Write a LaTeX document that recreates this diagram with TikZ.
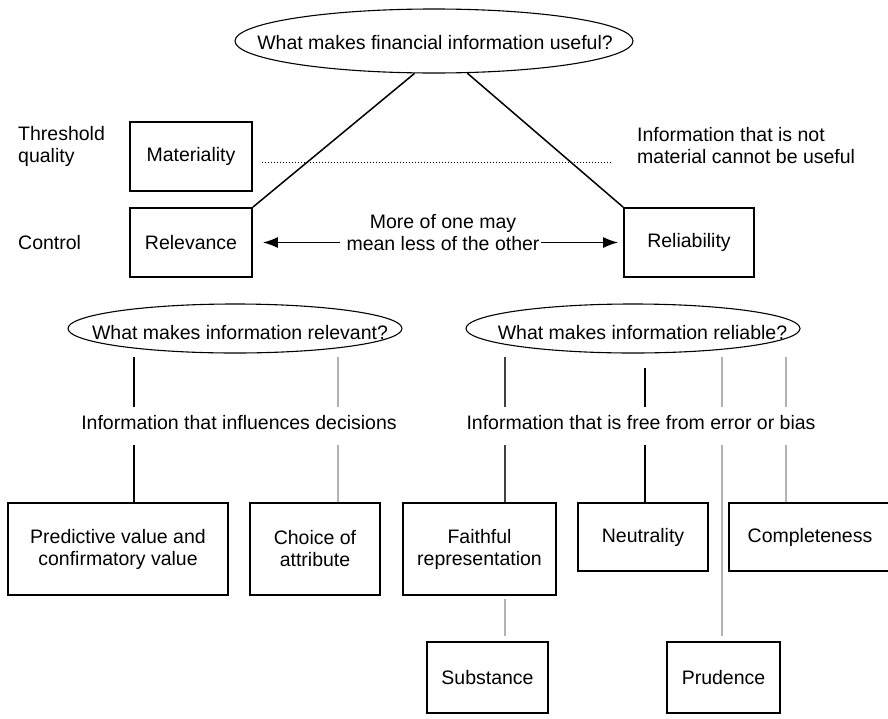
\documentclass[tikz,border=0pt]{standalone}
\usepackage{fontspec}
\setmainfont{Liberation Sans}
\usetikzlibrary{arrows.meta}
\usetikzlibrary{positioning,shapes.geometric}
\tikzset{
  box/.style={draw, line width=1.8pt, align=center, inner sep=2pt},
  bubble/.style={draw, ellipse, line width=1.1pt, inner sep=0pt},
  link/.style={line width=1.5pt},
  linkgray/.style={line width=1.5pt, gray!60},
  dotline/.style={line width=1pt, dash pattern=on 1pt off 2pt},
  arr/.style={line width=1.4pt, -{Latex[length=15pt,width=11pt]}},
  caption/.style={inner xsep=0pt, inner ysep=9pt}
}
\begin{document}
\begin{tikzpicture}[x=1pt,y=-1pt,font=\fontsize{19.5}{22}\selectfont]
      \useasboundingbox (0,0) rectangle (888,718);
      \node[bubble, minimum width=398pt, minimum height=64pt, label={[xshift=1pt,yshift=-2pt]center:What makes financial information useful?}] (useq) at (434,41) {};
      \node[box, minimum width=122pt, minimum height=69pt] (mater) at (191,156.5) {Materiality};
      \node[box, minimum width=122pt, minimum height=69pt] (relev) at (191,242.5) {Relevance};
      \node[box, minimum width=130pt, minimum height=69pt] (reliab) at (689,242.5) {Reliability};
      \node[align=left, anchor=west, inner sep=0pt] (thresh) at (18,146) {Threshold\\quality};
      \node[anchor=west, inner sep=0pt] (ctrl) at (18,243) {Control};
      \node[align=left, anchor=west, inner sep=0pt] (notmat) at (637,146) {Information that is not\\material cannot be useful};
      \node[align=center, inner sep=1pt] (more) at (443,232.5) {More of one may\\mean less of the other};
      \draw[link] (useq.239) -- (relev.north east);
      \draw[link] (useq.316) -- (reliab.north west);
      \draw[dotline] ([xshift=9pt,yshift=-5.5pt]mater.east) -- ([xshift=-27pt,yshift=-5.5pt]mater.east -| notmat.west);
      \draw[arr] ([xshift=-5pt]more.west |- relev.center) -- ([xshift=10pt]relev.east);
      \draw[arr] (more.east |- reliab.center) -- ([xshift=-5pt]reliab.west);
      \node[bubble, minimum width=334pt, minimum height=49pt, label={[xshift=5pt,yshift=-4.5pt]center:What makes information relevant?}] (relq) at (235,328.5) {};
      \node[bubble, minimum width=334pt, minimum height=49pt, label={[xshift=9.5pt,yshift=-4.5pt]center:What makes information reliable?}] (reliq) at (633,328.5) {};
      \node[caption] (infl) at (239,423) {Information that influences decisions};
      \node[caption] (free) at (641,423) {Information that is free from error or bias};
      \node[box, minimum width=220pt, minimum height=92pt] (predict) at (118,549) {Predictive value and\\confirmatory value};
      \node[box, minimum width=130pt, minimum height=92pt] (choice) at (315,549) {Choice of\\attribute};
      \node[box, minimum width=153pt, minimum height=92pt] (faith) at (479.5,549) {Faithful\\representation};
      \node[box, minimum width=130pt, minimum height=68pt] (neutr) at (643,537) {Neutrality};
      \node[box, minimum width=162pt, minimum height=68pt] (compl) at (810,537) {Completeness};
      \node[box, minimum width=121pt, minimum height=71pt] (subst) at (487.5,677.5) {Substance};
      \node[box, minimum width=113pt, minimum height=71pt] (prud) at (723.5,677.5) {Prudence};
      \draw[link] ([yshift=-3pt]relq.south -| 134,0) -- (infl.north -| 134,0);
      \draw[link] ([yshift=-6pt]infl.south -| 134,0) -- (predict.north -| 134,0);
      \draw[linkgray] ([yshift=-3pt]relq.south -| 338,0) -- (infl.north -| 338,0);
      \draw[linkgray] ([yshift=-6pt]infl.south -| 338,0) -- (choice.north -| 338,0);
      \draw[link, black!75] ([yshift=-3pt]reliq.south -| 505,0) -- (free.north -| 505,0);
      \draw[link, black!75] ([yshift=-6pt]free.south -| 505,0) -- (faith.north -| 505,0);
      \draw[link] ([yshift=-14pt]reliq.south -| 645,0) -- (free.north -| 645,0);
      \draw[link] ([yshift=-6pt]free.south -| 645,0) -- (neutr.north -| 645,0);
      \draw[linkgray] ([yshift=-3pt]reliq.south -| 722,0) -- (free.north -| 722,0);
      \draw[linkgray] ([yshift=-6pt]free.south -| 722,0) -- ([yshift=5pt]prud.north -| 722,0);
      \draw[linkgray] ([yshift=-3pt]reliq.south -| 786,0) -- (free.north -| 786,0);
      \draw[linkgray] ([yshift=-6pt]free.south -| 786,0) -- (compl.north -| 786,0);
      \draw[linkgray] ([yshift=-3pt]faith.south -| 505,0) -- ([yshift=5pt]subst.north -| 505,0);
\end{tikzpicture}
\end{document}
